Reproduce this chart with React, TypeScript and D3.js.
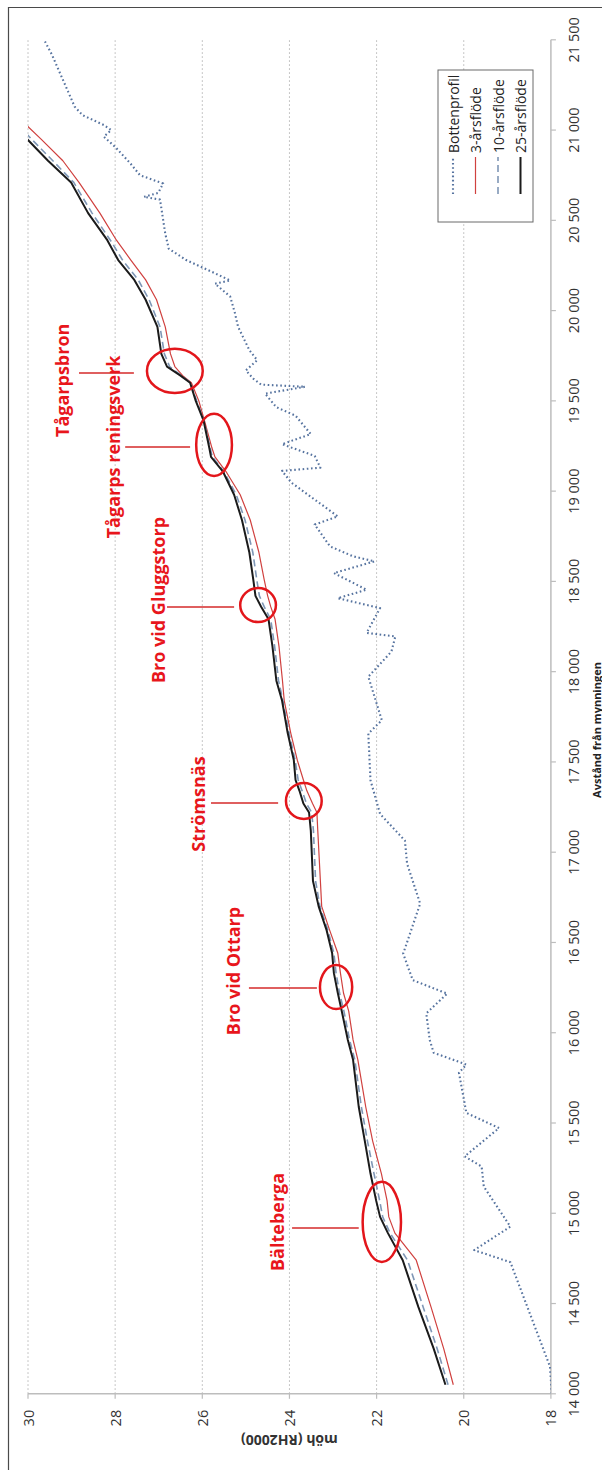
import React from "react";
import * as d3 from "d3";

const PAGE_W = 602;
const PAGE_H = 1470;

// The chart is laid out in a landscape frame (distance along the horizontal,
// level along the vertical) and then turned a quarter turn counter-clockwise
// onto the portrait page.
const FRAME_W = PAGE_H;

const distanceTicks = [14000, 14500, 15000, 15500, 16000, 16500, 17000, 17500, 18000, 18500, 19000, 19500, 20000, 20500, 21000, 21500];
const levelTicks = [18, 20, 22, 24, 26, 28, 30];

const seriesNames = ["Bottenprofil", "3-årsflöde", "10-årsflöde", "25-årsflöde"];

// Calculation stations (m from the river mouth) and water levels (m, RH2000)
const stations = [14050, 14250, 14480, 14740, 14890, 14980, 15070, 15220, 15400, 15590, 15850, 15960, 16120, 16220, 16330, 16440, 16570, 16700, 16840, 17120, 17220, 17270, 17340, 17400, 17510, 17660, 17840, 17950, 18140, 18290, 18360, 18420, 18510, 18660, 18840, 18980, 19110, 19190, 19240, 19390, 19500, 19600, 19640, 19690, 19760, 19910, 20060, 20170, 20280, 20390, 20540, 20710, 20830, 20950, 21100];
const flood3 = [20.24, 20.46, 20.75, 21.09, 21.58, 21.72, 21.76, 21.89, 22.09, 22.25, 22.43, 22.54, 22.64, 22.76, 22.83, 22.89, 23.08, 23.26, 23.29, 23.35, 23.37, 23.47, 23.60, 23.68, 23.82, 23.97, 24.12, 24.16, 24.24, 24.33, 24.43, 24.50, 24.58, 24.70, 24.90, 25.13, 25.46, 25.71, 25.78, 25.95, 26.08, 26.25, 26.45, 26.63, 26.73, 26.85, 27.05, 27.30, 27.64, 27.97, 28.35, 28.83, 29.20, 29.70, 30.35];
const flood10 = [20.36, 20.61, 20.93, 21.29, 21.69, 21.86, 21.93, 22.06, 22.21, 22.35, 22.50, 22.62, 22.75, 22.85, 22.93, 22.98, 23.12, 23.30, 23.40, 23.45, 23.49, 23.61, 23.71, 23.80, 23.87, 24.01, 24.15, 24.25, 24.34, 24.43, 24.58, 24.69, 24.75, 24.84, 25.02, 25.22, 25.51, 25.77, 25.82, 25.96, 26.13, 26.27, 26.48, 26.75, 26.87, 26.97, 27.22, 27.47, 27.83, 28.11, 28.53, 28.95, 29.43, 29.92, 30.50];
const flood25 = [20.42, 20.69, 21.04, 21.40, 21.74, 21.92, 22.01, 22.14, 22.27, 22.41, 22.54, 22.66, 22.80, 22.89, 22.98, 23.02, 23.15, 23.33, 23.46, 23.51, 23.55, 23.68, 23.77, 23.86, 23.90, 24.04, 24.17, 24.30, 24.39, 24.48, 24.65, 24.78, 24.83, 24.92, 25.09, 25.27, 25.53, 25.80, 25.84, 25.97, 26.15, 26.28, 26.50, 26.81, 26.94, 27.03, 27.30, 27.56, 27.93, 28.18, 28.62, 29.01, 29.54, 30.02, 30.60];

// Surveyed river bed
const bedDistance = [14000, 14150, 14729, 14796, 14926, 15148, 15259, 15315, 15472, 15556, 15778, 15824, 15889, 15959, 16107, 16217, 16291, 16438, 16715, 16936, 17064, 17212, 17398, 17657, 17731, 17972, 18111, 18195, 18215, 18352, 18407, 18454, 18546, 18611, 18639, 18694, 18815, 18860, 19046, 19112, 19130, 19195, 19260, 19316, 19418, 19465, 19540, 19578, 19590, 19623, 19669, 19725, 19781, 19911, 19985, 20078, 20149, 20167, 20227, 20280, 20343, 20426, 20615, 20630, 20652, 20704, 20750, 20815, 20907, 20963, 21000, 21028, 21083, 21130, 21417, 21500];
const bedLevel = [17.98, 18.02, 18.93, 19.76, 18.93, 19.54, 19.59, 19.98, 19.19, 19.94, 20.11, 19.94, 20.69, 20.78, 20.86, 20.38, 21.17, 21.39, 21.00, 21.30, 21.35, 21.92, 22.14, 22.19, 21.88, 22.19, 21.66, 21.57, 22.23, 21.92, 22.89, 22.23, 22.98, 22.05, 22.54, 23.07, 23.42, 22.89, 23.95, 24.17, 23.29, 23.42, 24.17, 23.51, 23.86, 24.30, 24.56, 23.64, 24.65, 24.83, 25.00, 24.74, 24.92, 25.18, 25.25, 25.36, 25.71, 25.36, 25.89, 26.37, 26.77, 26.85, 26.97, 27.34, 27.01, 26.90, 27.43, 27.65, 28.00, 28.26, 28.09, 28.26, 28.75, 28.93, 29.45, 29.63];

// Marked structures along the river: ellipse centre and half extents in data units,
// label and leader line in data units.
const sites = [
  { name: "Tågarpsbron", distance: 19666, level: 26.63, halfDistance: 122, halfLevel: 0.64, labelDistance: 19614, labelLevel: 29.22, lineDistance: 19654, lineFrom: 28.83, lineTo: 27.57 },
  { name: "Tågarps reningsverk", distance: 19256, level: 25.73, halfDistance: 172, halfLevel: 0.41, labelDistance: 19245, labelLevel: 28.05, lineDistance: 19245, lineFrom: 27.77, lineTo: 26.28 },
  { name: "Bro vid Gluggstorp", distance: 18369, level: 24.72, halfDistance: 94, halfLevel: 0.41, labelDistance: 18397, labelLevel: 27.01, lineDistance: 18358, lineFrom: 26.81, lineTo: 25.27 },
  { name: "Strömsnäs", distance: 17284, level: 23.67, halfDistance: 100, halfLevel: 0.41, labelDistance: 17267, labelLevel: 26.09, lineDistance: 17273, lineFrom: 25.8, lineTo: 24.26 },
  { name: "Bro vid Ottarp", distance: 16253, level: 22.93, halfDistance: 122, halfLevel: 0.37, labelDistance: 16342, labelLevel: 25.3, lineDistance: 16248, lineFrom: 24.93, lineTo: 23.37 },
  { name: "Bälteberga", distance: 14952, level: 21.88, halfDistance: 222, halfLevel: 0.44, labelDistance: 14952, labelLevel: 24.28, lineDistance: 14919, lineFrom: 23.94, lineTo: 22.41 },
];

const FONT = "'Open Sans', 'Liberation Sans', Arial, sans-serif";

const x = d3.scaleLinear().domain([14000, 21500]).range([76.2, 1430.2]);
const y = d3.scaleLinear().domain([18, 30]).range([550.9, 28]);

const fmtDistance = d3.formatLocale({ decimal: ",", thousands: " ", grouping: [3], currency: ["", ""] }).format(",d");

type Pt = [number, number];
const line = d3.line<Pt>().x((d) => x(d[0])).y((d) => y(d[1]));

const zipSeries = (xs: number[], ys: number[]): Pt[] => xs.map((v, i) => [v, ys[i]] as Pt);

const styles = {
  bed: { stroke: "#56739f", strokeWidth: 2.1, dash: "1.6 2.6" },
  f3: { stroke: "#d0413f", strokeWidth: 1.2, dash: undefined as string | undefined },
  f10: { stroke: "#7f97b6", strokeWidth: 1.6, dash: "7 4" },
  f25: { stroke: "#1b1b1b", strokeWidth: 2, dash: undefined as string | undefined },
};

export default function App() {
  const [x0, x1] = x.range();
  const [yb, yt] = y.range();
  const series = [
    { key: "bed", pts: zipSeries(bedDistance, bedLevel), st: styles.bed },
    { key: "f3", pts: zipSeries(stations, flood3), st: styles.f3 },
    { key: "f10", pts: zipSeries(stations, flood10), st: styles.f10 },
    { key: "f25", pts: zipSeries(stations, flood25), st: styles.f25 },
  ];
  const legendStyles = [styles.bed, styles.f3, styles.f10, styles.f25];
  const legendRows = [453, 475.5, 498, 520.5];

  return (
    <svg
      width={PAGE_W}
      height={PAGE_H}
      style={{ position: "absolute", left: 0, top: 0, background: "#fff" }}
      fontFamily={FONT}
    >
      <rect x={0} y={0} width={PAGE_W} height={PAGE_H} fill="#fff" />
      <path d={`M8.5 ${PAGE_H} V7.5 H${PAGE_W}`} fill="none" stroke="#4a4a4a" strokeWidth={1.2} />
      <g transform={`translate(0,${FRAME_W}) rotate(-90)`}>
        <defs>
          <clipPath id="plot-clip">
            <rect x={x0} y={yt} width={x1 - x0} height={yb - yt} />
          </clipPath>
        </defs>

        {/* gridlines */}
        {levelTicks.filter((t) => t !== 18).map((t) => (
          <line key={`g${t}`} x1={x0} x2={x1} y1={y(t)} y2={y(t)} stroke="#b5b5b5" strokeWidth={1} strokeDasharray="1.5 2.5" />
        ))}

        {/* axes */}
        <line x1={x0} x2={x1} y1={yb} y2={yb} stroke="#bdbdbd" strokeWidth={1.5} />
        <line x1={x0} x2={x0} y1={yt} y2={yb} stroke="#bdbdbd" strokeWidth={1.5} />
        {distanceTicks.map((t) => (
          <g key={`dx${t}`}>
            <line x1={x(t)} x2={x(t)} y1={yb} y2={yb + 5} stroke="#bdbdbd" strokeWidth={1.2} />
            <text x={x(t)} y={yb + 23} textAnchor="middle" dominantBaseline="central" fontSize={14.5} fill="#333">
              {fmtDistance(t)}
            </text>
          </g>
        ))}
        {levelTicks.map((t) => (
          <g key={`ly${t}`}>
            <line x1={x0 - 5} x2={x0} y1={y(t)} y2={y(t)} stroke="#bdbdbd" strokeWidth={1.2} />
            <text x={x0 - 16} y={y(t)} textAnchor="end" dominantBaseline="central" fontSize={14.5} fill="#333">
              {t}
            </text>
          </g>
        ))}
        <text x={740} y={596} textAnchor="middle" dominantBaseline="central" fontSize={11} fontWeight="bold" fill="#222">
          Avstånd från mynningen
        </text>
        <text transform={`translate(30,${(yt + yb) / 2}) rotate(-90)`} textAnchor="middle" dominantBaseline="central" fontSize={14} fontWeight="bold" fill="#333">
          möh (RH2000)
        </text>

        {/* series */}
        <g clipPath="url(#plot-clip)">
          {series.map((s) => (
            <path key={s.key} d={line(s.pts) ?? ""} fill="none" stroke={s.st.stroke} strokeWidth={s.st.strokeWidth} strokeDasharray={s.st.dash} strokeLinejoin="round" />
          ))}
        </g>

        {/* legend */}
        <rect x={1248} y={438} width={152} height={95} fill="#fff" stroke="#6a6a6a" strokeWidth={1} />
        {seriesNames.map((name, i) => (
          <g key={name}>
            <line x1={1276} x2={1313} y1={legendRows[i]} y2={legendRows[i]} stroke={legendStyles[i].stroke} strokeWidth={legendStyles[i].strokeWidth} strokeDasharray={legendStyles[i].dash} />
            <text x={1317} y={legendRows[i]} dominantBaseline="central" fontSize={14} fill="#222">
              {name}
            </text>
          </g>
        ))}

        {/* marked structures */}
        {sites.map((s) => {
          const cx = x(s.distance);
          const cy = y(s.level);
          const rx = x(s.distance + s.halfDistance) - cx;
          const ry = y(s.level) - y(s.level + s.halfLevel);
          return (
            <g key={s.name}>
              <line x1={x(s.lineDistance)} x2={x(s.lineDistance)} y1={y(s.lineFrom)} y2={y(s.lineTo)} stroke="#d42a2a" strokeWidth={1.5} />
              <ellipse cx={cx} cy={cy} rx={rx} ry={ry} fill="none" stroke="#e3161b" strokeWidth={2.5} />
              <text x={x(s.labelDistance)} y={y(s.labelLevel)} textAnchor="middle" dominantBaseline="central" fontSize={18} fontWeight="bold" fill="#e8161c">
                {s.name}
              </text>
            </g>
          );
        })}
      </g>
    </svg>
  );
}
